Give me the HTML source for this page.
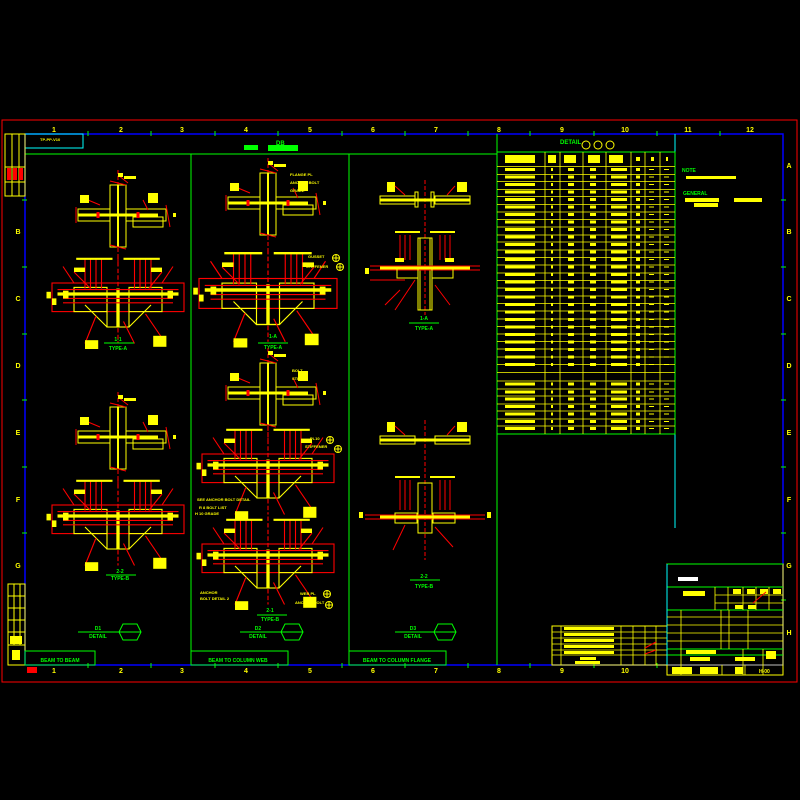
<!DOCTYPE html>
<html><head><meta charset="utf-8"><style>
html,body{margin:0;padding:0;background:#000;width:800px;height:800px;overflow:hidden}
svg{display:block}
text{font-family:"Liberation Sans","Noto Sans CJK SC",sans-serif;font-weight:bold}
</style></head><body>
<svg width="800" height="800" viewBox="0 0 800 800" xmlns="http://www.w3.org/2000/svg">
<defs>
<g id="cross">
 <line x1="0" y1="-45" x2="0" y2="48" stroke="#f00" stroke-width="1" stroke-dasharray="4 2"/>
 <rect x="-8" y="-30" width="16" height="62" fill="none" stroke="#ff0" stroke-width="1"/>
 <line x1="0" y1="-30" x2="0" y2="32" stroke="#ff0" stroke-width="2"/>
 <line x1="-40" y1="0" x2="40" y2="0" stroke="#ff0" stroke-width="3"/>
 <rect x="-40" y="-6" width="32" height="12" fill="none" stroke="#ff0"/>
 <rect x="8" y="-6" width="40" height="12" fill="none" stroke="#ff0"/>
 <rect x="15" y="2" width="30" height="10" fill="none" stroke="#ff0"/>
 <line x1="-42" y1="-8" x2="-42" y2="8" stroke="#f00"/>
 <line x1="48" y1="-10" x2="52" y2="12" stroke="#f00"/>
 <line x1="-20" y1="-3" x2="-20" y2="3" stroke="#f00" stroke-width="3"/>
 <line x1="20" y1="-3" x2="20" y2="3" stroke="#f00" stroke-width="3"/>
 <line x1="-8" y1="-34" x2="8" y2="-30" stroke="#f00"/>
 <line x1="-8" y1="30" x2="8" y2="34" stroke="#f00"/>
 <path d="M-30-15 L-18-10 M25-15 L30-5 M0-40 L10-32" stroke="#f00" fill="none"/>
 <rect x="-38" y="-20" width="9" height="8" fill="#ff0"/>
 <rect x="30" y="-22" width="10" height="10" fill="#ff0"/>
 <rect x="0" y="-42" width="5" height="4" fill="#ff0"/>
 <rect x="6" y="-39" width="12" height="3" fill="#ff0"/>
 <rect x="55" y="-2" width="3" height="4" fill="#ff0"/>
</g>
<g id="plan">
 <line x1="0" y1="-35" x2="0" y2="45" stroke="#f00" stroke-dasharray="4 2"/>
 <rect x="-60" y="-10" width="120" height="26" fill="none" stroke="#f00"/>
 <line x1="-55" y1="0" x2="55" y2="0" stroke="#ff0" stroke-width="3"/>
 <rect x="-40" y="-6" width="30" height="22" fill="none" stroke="#ff0"/>
 <rect x="10" y="-6" width="30" height="22" fill="none" stroke="#ff0"/>
 <rect x="-10" y="0" width="20" height="30" fill="none" stroke="#ff0"/>
 <line x1="0" y1="-5" x2="0" y2="30" stroke="#ff0" stroke-width="3"/>
 <path d="M-30-32 V-5 M-25-32 V-5 M-20-32 V-5 M-15-32 V-5 M15-32 V-5 M20-32 V-5 M25-32 V-5 M30-32 V-5" stroke="#f00"/>
 <path d="M-38-32 H-5 M5-32 H38" stroke="#ff0" stroke-width="2"/>
 <path d="M-50 4 H50 M-50 8 H50 M-55 -4 H55" stroke="#f00"/>
 <path d="M-30 10 L-10 30 L10 30 L30 10" stroke="#ff0" fill="none"/>
 <path d="M-20 20 L-30 45 M5 25 L15 45 M25 18 L40 40 M-40-20 L-25-5 M40-20 L28-5 M-50-25 L-40-10 M50-25 L40-10" stroke="#f00" fill="none"/>
 <rect x="-50" y="-3" width="5" height="7" fill="#ff0"/><rect x="45" y="-3" width="5" height="7" fill="#ff0"/>
 <rect x="-40" y="-24" width="10" height="4" fill="#ff0"/><rect x="30" y="-24" width="10" height="4" fill="#ff0"/>
 <rect x="-30" y="42" width="12" height="8" fill="#ff0"/><rect x="32" y="38" width="12" height="10" fill="#ff0"/>
 <rect x="-65" y="-2" width="4" height="6" fill="#ff0"/><rect x="-60" y="4" width="4" height="6" fill="#ff0"/>
</g>
<g id="hex"><polygon points="-7,-8 7,-8 11,0 7,8 -7,8 -11,0" fill="none" stroke="#0f0"/><line x1="-11" y1="0" x2="11" y2="0" stroke="#0f0"/></g>
<g id="bub"><circle r="3.5" fill="none" stroke="#ff0"/><line x1="-3.5" y1="0" x2="3.5" y2="0" stroke="#ff0"/><line x1="0" y1="-3.5" x2="0" y2="3.5" stroke="#ff0"/></g>
</defs>

<rect x="2" y="120" width="795" height="562" fill="none" stroke="#f00"/>
<rect x="25" y="134" width="758" height="531" fill="none" stroke="#00f" stroke-width="1.5"/>
<line x1="25" y1="154" x2="497" y2="154" stroke="#0f0"/>
<line x1="191" y1="154" x2="191" y2="665" stroke="#0f0"/>
<line x1="349" y1="154" x2="349" y2="665" stroke="#0f0"/>
<line x1="497" y1="134" x2="497" y2="665" stroke="#0f0"/>
<line x1="675" y1="134" x2="675" y2="528" stroke="#0ff"/>
<rect x="25" y="134" width="58" height="14" fill="none" stroke="#0ff"/>
<text x="40" y="141" font-size="4" fill="#ff0">TP-PP-V10</text>

<g font-size="7" fill="#ff0" text-anchor="middle">
<text x="54" y="132">1</text><text x="121" y="132">2</text><text x="182" y="132">3</text><text x="246" y="132">4</text><text x="310" y="132">5</text><text x="373" y="132">6</text><text x="436" y="132">7</text><text x="499" y="132">8</text><text x="562" y="132">9</text><text x="625" y="132">10</text><text x="688" y="132">11</text><text x="750" y="132">12</text>
<text x="54" y="673">1</text><text x="121" y="673">2</text><text x="182" y="673">3</text><text x="246" y="673">4</text><text x="310" y="673">5</text><text x="373" y="673">6</text><text x="436" y="673">7</text><text x="499" y="673">8</text><text x="562" y="673">9</text><text x="625" y="673">10</text>
<text x="789" y="168">A</text><text x="789" y="234">B</text><text x="789" y="301">C</text><text x="789" y="368">D</text><text x="789" y="435">E</text><text x="789" y="502">F</text><text x="789" y="568">G</text><text x="789" y="635">H</text>
<text x="18" y="234">B</text><text x="18" y="301">C</text><text x="18" y="368">D</text><text x="18" y="435">E</text><text x="18" y="502">F</text><text x="18" y="568">G</text>
</g>
<g stroke="#0f0">
<path d="M88 131V136 M151 131V136 M215 131V136 M278 131V136 M342 131V136 M405 131V136 M468 131V136 M530 131V136 M594 131V136 M657 131V136 M720 131V136"/>
<path d="M88 663V668 M151 663V668 M215 663V668 M278 663V668 M342 663V668 M405 663V668 M468 663V668 M530 663V668 M594 663V668 M657 663V668"/>
<path d="M781 200H786 M781 267H786 M781 334H786 M781 400H786 M781 467H786 M781 533H786 M781 600H786"/>
<path d="M22 200H27 M22 267H27 M22 334H27 M22 400H27 M22 467H27 M22 533H27"/>
</g>
<rect x="5" y="134" width="20" height="62" fill="none" stroke="#ff0"/>
<path d="M12 134V196 M19 134V196 M5 167H25 M5 182H25" stroke="#ff0"/>
<rect x="7" y="168" width="4" height="12" fill="#f00"/><rect x="13" y="168" width="4" height="12" fill="#f00"/><rect x="19" y="168" width="4" height="12" fill="#f00"/>
<rect x="8" y="584" width="17" height="81" fill="none" stroke="#ff0"/>
<path d="M8 596H25 M8 608H25 M8 620H25 M8 632H25 M8 645H25 M14 584V645 M20 584V645" stroke="#ff0"/>
<rect x="10" y="636" width="12" height="8" fill="#ff0"/><rect x="12" y="650" width="8" height="10" fill="#ff0"/>
<rect x="27" y="667" width="10" height="6" fill="#f00"/>

<text x="276" y="145" font-size="6" fill="#0f0">DB</text>
<rect x="244" y="145" width="14" height="5" fill="#0f0"/><rect x="268" y="145" width="30" height="6" fill="#0f0"/>
<text x="560" y="144" font-size="6" fill="#0f0">DETAIL</text>
<g stroke="#ff0" fill="none"><circle cx="586" cy="145" r="4"/><circle cx="598" cy="145" r="4"/><circle cx="610" cy="145" r="4"/></g>

<!-- column 1 -->
<use href="#cross" x="118" y="215"/>
<g transform="translate(118,294) scale(1.1)"><use href="#plan"/></g>
<line x1="104" y1="343" x2="134" y2="343" stroke="#0f0"/>
<text x="118" y="341" font-size="5" fill="#0f0" text-anchor="middle">1-1</text>
<text x="118" y="350" font-size="5" fill="#0f0" text-anchor="middle">TYPE-A</text>
<use href="#cross" x="118" y="437"/>
<g transform="translate(118,516) scale(1.1)"><use href="#plan"/></g>
<line x1="106" y1="575" x2="136" y2="575" stroke="#0f0"/>
<text x="120" y="573" font-size="5" fill="#0f0" text-anchor="middle">2-2</text>
<text x="120" y="580" font-size="5" fill="#0f0" text-anchor="middle">TYPE-B</text>
<line x1="78" y1="632" x2="120" y2="632" stroke="#0f0"/><use href="#hex" x="130" y="632"/>
<text x="98" y="630" font-size="5" fill="#0f0" text-anchor="middle">D1</text>
<text x="98" y="638" font-size="5" fill="#0f0" text-anchor="middle">DETAIL</text>
<rect x="25" y="651" width="70" height="14" fill="none" stroke="#0f0"/>
<text x="60" y="662" font-size="5" fill="#0f0" text-anchor="middle">BEAM TO BEAM</text>

<!-- column 2 -->
<use href="#cross" x="268" y="203"/>
<g transform="translate(268,290) scale(1.15)"><use href="#plan"/></g>
<line x1="258" y1="343" x2="288" y2="343" stroke="#0f0"/>
<text x="273" y="338" font-size="5" fill="#0f0" text-anchor="middle">1-A</text>
<text x="273" y="349" font-size="5" fill="#0f0" text-anchor="middle">TYPE-A</text>
<use href="#cross" x="268" y="393"/>
<g transform="translate(268,465) scale(1.1)"><use href="#plan"/></g>
<g transform="translate(268,555) scale(1.1)"><use href="#plan"/></g>
<line x1="257" y1="615" x2="287" y2="615" stroke="#0f0"/>
<text x="270" y="612" font-size="5" fill="#0f0" text-anchor="middle">2-1</text>
<text x="270" y="621" font-size="5" fill="#0f0" text-anchor="middle">TYPE-B</text>
<line x1="240" y1="632" x2="282" y2="632" stroke="#0f0"/><use href="#hex" x="292" y="632"/>
<text x="258" y="630" font-size="5" fill="#0f0" text-anchor="middle">D2</text>
<text x="258" y="638" font-size="5" fill="#0f0" text-anchor="middle">DETAIL</text>
<rect x="191" y="651" width="97" height="14" fill="none" stroke="#0f0"/>
<text x="238" y="662" font-size="5" fill="#0f0" text-anchor="middle">BEAM TO COLUMN WEB</text>
<g fill="#ff0" font-size="4">
<text x="197" y="501">SEE ANCHOR BOLT DETAIL</text><text x="199" y="509">R 8 BOLT LIST</text><text x="195" y="515">H 10 GRADE</text>
<text x="200" y="594">ANCHOR</text><text x="200" y="600">BOLT DETAIL 2</text>
<text x="290" y="176">FLANGE PL</text><text x="290" y="184">ANCHOR BOLT</text><text x="290" y="192">GRADE</text>
<text x="308" y="258">GUSSET</text><text x="306" y="268">STIFFENER</text>
<text x="292" y="372">BOLT</text><text x="292" y="380">STIFF</text>
<text x="310" y="440">PL10</text><text x="305" y="448">STIFFENER</text>
<text x="300" y="595">WEB PL</text><text x="295" y="604">ANCHOR BOLT</text>
</g>
<use href="#bub" x="336" y="258"/><use href="#bub" x="340" y="267"/><use href="#bub" x="330" y="440"/><use href="#bub" x="338" y="449"/><use href="#bub" x="327" y="594"/><use href="#bub" x="329" y="605"/>

<!-- column 3 -->
<g transform="translate(425,200)">
 <line x1="0" y1="-20" x2="0" y2="115" stroke="#f00" stroke-dasharray="4 2"/>
 <line x1="-45" y1="0" x2="45" y2="0" stroke="#ff0" stroke-width="3"/>
 <rect x="-45" y="-4" width="35" height="8" fill="none" stroke="#ff0"/>
 <rect x="10" y="-4" width="35" height="8" fill="none" stroke="#ff0"/>
 <rect x="-10" y="-8" width="3" height="15" fill="none" stroke="#ff0"/><rect x="6" y="-8" width="3" height="15" fill="none" stroke="#ff0"/>
 <rect x="-38" y="-18" width="8" height="10" fill="#ff0"/><rect x="32" y="-18" width="10" height="10" fill="#ff0"/>
 <path d="M-30-14 L-20-5 M30-14 L22-5" stroke="#f00"/>
</g>
<g transform="translate(425,270)">
 <rect x="-7" y="-32" width="14" height="72" fill="none" stroke="#ff0"/>
 <path d="M-5-32V40 M5-32V40" stroke="#ff0"/>
 <path d="M-25-35V-10 M-20-35V-10 M-15-35V-10 M15-35V-10 M20-35V-10 M25-35V-10" stroke="#f00"/>
 <path d="M-30-38 H-5 M5-38 H30" stroke="#ff0" stroke-width="2"/>
 <path d="M-55 0 H55 M-55 -4 H55" stroke="#f00"/>
 <path d="M-45-2 H45" stroke="#ff0" stroke-width="3"/>
 <rect x="-28" y="-2" width="21" height="10" fill="none" stroke="#ff0"/><rect x="7" y="-2" width="21" height="10" fill="none" stroke="#ff0"/>
 <path d="M-55 10 H-20 M-10 10 L-30 40 M10 15 L25 35 M-25 20 L-40 35" stroke="#f00"/>
 <rect x="-60" y="-2" width="4" height="6" fill="#ff0"/><rect x="-30" y="-12" width="9" height="4" fill="#ff0"/><rect x="20" y="-12" width="9" height="4" fill="#ff0"/>
</g>
<line x1="409" y1="323" x2="439" y2="323" stroke="#0f0"/>
<text x="424" y="320" font-size="5" fill="#0f0" text-anchor="middle">1-A</text>
<text x="424" y="330" font-size="5" fill="#0f0" text-anchor="middle">TYPE-A</text>
<g transform="translate(425,440)">
 <line x1="0" y1="-20" x2="0" y2="120" stroke="#f00" stroke-dasharray="4 2"/>
 <line x1="-45" y1="0" x2="45" y2="0" stroke="#ff0" stroke-width="3"/>
 <rect x="-45" y="-4" width="35" height="8" fill="none" stroke="#ff0"/><rect x="10" y="-4" width="35" height="8" fill="none" stroke="#ff0"/>
 <rect x="-38" y="-18" width="8" height="10" fill="#ff0"/><rect x="32" y="-18" width="10" height="10" fill="#ff0"/>
 <path d="M-30-14 L-20-5 M30-14 L22-5" stroke="#f00"/>
</g>
<g transform="translate(425,515)">
 <rect x="-7" y="-32" width="14" height="50" fill="none" stroke="#ff0"/>
 <path d="M-25-35V-5 M-20-35V-5 M-15-35V-5 M15-35V-5 M20-35V-5 M25-35V-5" stroke="#f00"/>
 <path d="M-30-38 H-5 M5-38 H30" stroke="#ff0" stroke-width="2"/>
 <path d="M-60 0 H60 M-60 4 H60" stroke="#f00"/>
 <path d="M-45 2 H45" stroke="#ff0" stroke-width="3"/>
 <rect x="-30" y="-2" width="22" height="10" fill="none" stroke="#ff0"/><rect x="8" y="-2" width="22" height="10" fill="none" stroke="#ff0"/>
 <path d="M-20 10 L-32 35 M10 12 L28 32" stroke="#f00"/>
 <rect x="-66" y="-3" width="4" height="6" fill="#ff0"/><rect x="62" y="-3" width="4" height="6" fill="#ff0"/>
</g>
<line x1="410" y1="580" x2="440" y2="580" stroke="#0f0"/>
<text x="424" y="578" font-size="5" fill="#0f0" text-anchor="middle">2-2</text>
<text x="424" y="588" font-size="5" fill="#0f0" text-anchor="middle">TYPE-B</text>
<line x1="395" y1="632" x2="435" y2="632" stroke="#0f0"/><use href="#hex" x="445" y="632"/>
<text x="413" y="630" font-size="5" fill="#0f0" text-anchor="middle">D3</text>
<text x="413" y="638" font-size="5" fill="#0f0" text-anchor="middle">DETAIL</text>
<rect x="349" y="651" width="97" height="14" fill="none" stroke="#0f0"/>
<text x="397" y="662" font-size="5" fill="#0f0" text-anchor="middle">BEAM TO COLUMN FLANGE</text>

<!-- table -->
<rect x="497" y="152" width="178" height="282" fill="none" stroke="#0f0"/>
<g stroke="#ff0" stroke-width="0.8">
<path d="M545 152V434 M560 152V434 M583 152V434 M606 152V434 M631 152V434 M645 152V434 M660 152V434"/>
<path d="M497 166.5H675 M497 174.5H675 M497 181.5H675 M497 189.5H675 M497 196.5H675 M497 204.5H675 M497 212H675 M497 219.5H675 M497 227H675 M497 235H675 M497 242H675 M497 250H675 M497 257.5H675 M497 265H675 M497 273H675 M497 280.5H675 M497 288H675 M497 296H675 M497 303.5H675 M497 311H675 M497 319H675 M497 326.5H675 M497 334H675 M497 341.5H675 M497 349H675 M497 357H675 M497 364.5H675 M497 372.5H675 M497 381H675 M497 389H675 M497 396H675 M497 404H675 M497 411H675 M497 419H675 M497 426H675"/>
</g>
<g fill="#ff0">
<rect x="505" y="155" width="30" height="8"/><rect x="548" y="155" width="8" height="8"/><rect x="564" y="155" width="12" height="8"/><rect x="588" y="155" width="12" height="8"/><rect x="609" y="155" width="14" height="8"/><rect x="636" y="157" width="4" height="4"/><rect x="651" y="157" width="3" height="4"/><rect x="666" y="157" width="2" height="4"/>
</g>
<g id="rows" fill="#ff0">
<rect x="505" y="168" width="30" height="3"/><rect x="551" y="168" width="2" height="3"/><rect x="568" y="168" width="6" height="3"/><rect x="590" y="168" width="6" height="3"/><rect x="611" y="168" width="16" height="3"/><rect x="636" y="168" width="4" height="3"/><rect x="649" y="169" width="5" height="1"/><rect x="664" y="169" width="5" height="1"/>
</g>
<use href="#rows" y="7.5"/><use href="#rows" y="15"/><use href="#rows" y="22.5"/><use href="#rows" y="30"/><use href="#rows" y="37.5"/><use href="#rows" y="45"/><use href="#rows" y="52.5"/><use href="#rows" y="60"/><use href="#rows" y="67.5"/><use href="#rows" y="75"/><use href="#rows" y="82.5"/><use href="#rows" y="90"/><use href="#rows" y="97.5"/><use href="#rows" y="105"/><use href="#rows" y="112.5"/><use href="#rows" y="120"/><use href="#rows" y="127.5"/><use href="#rows" y="135"/><use href="#rows" y="142.5"/><use href="#rows" y="150"/><use href="#rows" y="157.5"/><use href="#rows" y="165"/><use href="#rows" y="172.5"/><use href="#rows" y="180"/><use href="#rows" y="187.5"/><use href="#rows" y="195"/><use href="#rows" y="214.5"/><use href="#rows" y="222.5"/><use href="#rows" y="229.5"/><use href="#rows" y="237"/><use href="#rows" y="244.5"/><use href="#rows" y="252"/><use href="#rows" y="259"/>

<text x="682" y="172" font-size="5" fill="#0f0">NOTE</text>
<rect x="686" y="176" width="50" height="3" fill="#ff0"/>
<text x="683" y="195" font-size="5" fill="#0f0">GENERAL</text>
<rect x="685" y="198" width="34" height="4" fill="#ff0"/><rect x="734" y="198" width="28" height="4" fill="#ff0"/><rect x="694" y="203" width="24" height="4" fill="#ff0"/>

<rect x="552" y="626" width="115" height="39" fill="none" stroke="#ff0"/>
<path d="M552 632H667 M552 638H667 M552 644H667 M552 650H667 M552 655H667 M561 626V665 M621 626V665 M633 626V665 M645 626V665 M656 626V665" stroke="#ff0" stroke-width="0.8"/>
<g fill="#ff0"><rect x="564" y="627" width="50" height="3"/><rect x="564" y="633" width="50" height="3"/><rect x="564" y="639" width="50" height="3"/><rect x="564" y="645" width="50" height="3"/><rect x="564" y="651" width="50" height="3"/><rect x="580" y="657" width="16" height="3"/><rect x="575" y="661" width="25" height="3"/></g>
<path d="M645 648 L656 642 M645 654 L656 650" stroke="#f00"/>

<rect x="667" y="564" width="116" height="111" fill="none" stroke="#ff0"/>
<path d="M667 564H783 M667 587H783 M667 610H783 M667 649H783 M667 655H783" stroke="#0f0"/>
<line x1="667" y1="564" x2="667" y2="665" stroke="#0ff"/>
<path d="M715 587V610 M728 587V610 M743 587V610 M756 587V610 M769 587V610 M715 595H783 M715 603H783 M667 617H783 M667 625H783 M667 633H783 M667 641H783 M681 610V649 M721 610V649 M729 610V649 M748 610V649 M667 665H783 M681 649V675 M743 649V675 M763 649V675 M722 665V675 M745 665V675" stroke="#ff0" stroke-width="0.8"/>
<rect x="678" y="577" width="20" height="4" fill="#fff"/>
<g fill="#ff0"><rect x="683" y="591" width="22" height="5"/><rect x="733" y="589" width="8" height="5"/><rect x="747" y="589" width="8" height="5"/><rect x="760" y="589" width="8" height="5"/><rect x="773" y="589" width="8" height="5"/><rect x="735" y="605" width="8" height="4"/><rect x="748" y="605" width="8" height="4"/><rect x="686" y="650" width="30" height="4"/><rect x="690" y="657" width="20" height="4"/><rect x="735" y="657" width="20" height="4"/><rect x="766" y="651" width="10" height="8"/><rect x="672" y="667" width="20" height="7"/><rect x="700" y="667" width="18" height="7"/><rect x="735" y="667" width="8" height="7"/></g>
<text x="759" y="673" font-size="5" fill="#ff0">H-00</text>
<path d="M753 603 L766 592" stroke="#f00"/>
</svg>
</body></html>
